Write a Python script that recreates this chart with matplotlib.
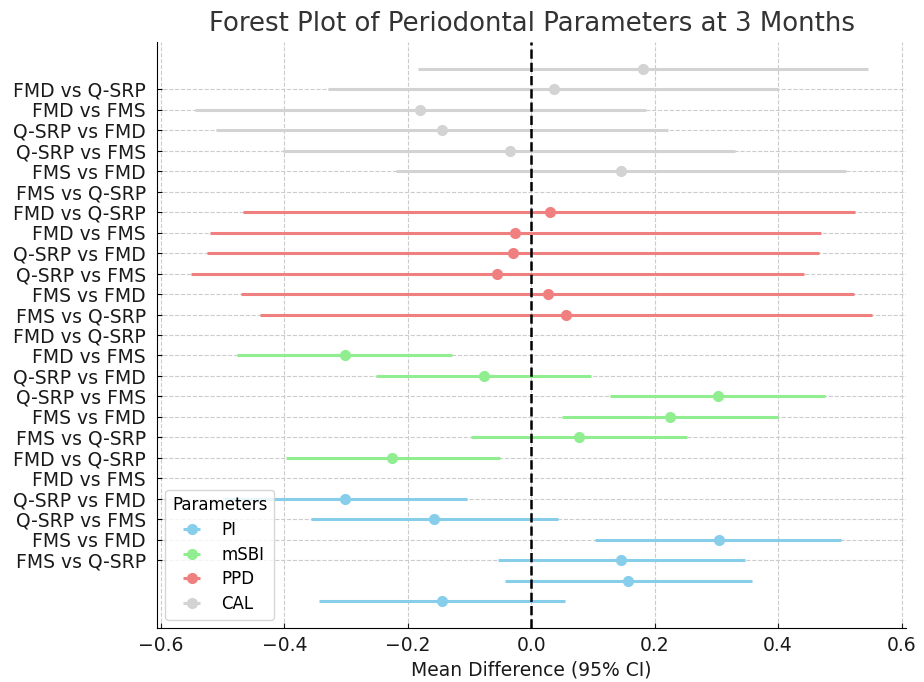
import matplotlib
matplotlib.use("Agg")
import matplotlib.pyplot as plt
import numpy as np

comparisons = ["FMD vs Q-SRP", "FMD vs FMS", "Q-SRP vs FMD",
               "Q-SRP vs FMS", "FMS vs FMD", "FMS vs Q-SRP"]
parameters = ["PI", "mSBI", "PPD", "CAL"]
colors = ["skyblue", "lightgreen", "lightcoral", "lightgray"]

# values listed top-to-bottom within each group
pi_mean = [-0.302, -0.157, 0.304, 0.146, 0.157, -0.145]
pi_lo = [-0.500, -0.357, 0.104, -0.054, -0.043, -0.344]
pi_hi = [-0.104, 0.043, 0.502, 0.346, 0.357, 0.054]

msbi_mean = [-0.301, -0.076, 0.303, 0.225, 0.077, -0.225]
msbi_lo = [-0.476, -0.251, 0.127, 0.050, -0.097, -0.398]
msbi_hi = [-0.128, 0.097, 0.476, 0.399, 0.252, -0.050]

ppd_mean = [0.030, -0.026, -0.029, -0.055, 0.027, 0.056]
ppd_lo = [-0.467, -0.521, -0.525, -0.551, -0.470, -0.440]
ppd_hi = [0.525, 0.470, 0.467, 0.442, 0.523, 0.552]

cal_mean = [0.181, 0.037, -0.181, -0.144, -0.035, 0.145]
cal_lo = [-0.183, -0.329, -0.545, -0.510, -0.402, -0.219]
cal_hi = [0.545, 0.400, 0.186, 0.221, 0.330, 0.510]

means = [pi_mean, msbi_mean, ppd_mean, cal_mean]
los = [pi_lo, msbi_lo, ppd_lo, cal_lo]
his = [pi_hi, msbi_hi, ppd_hi, cal_hi]

fig = plt.figure(figsize=(9.24, 6.82), dpi=100)
ax = fig.add_axes([0.170, 0.0792, 0.8105, 0.8592])

n = len(comparisons)
for g, (name, col) in enumerate(zip(parameters, colors)):
    m = np.array(means[g])
    lo = np.array(los[g])
    hi = np.array(his[g])
    y = g * (n + 1) + (n - 1 - np.arange(n))
    ax.errorbar(m, y, xerr=[m - lo, hi - m], fmt='o', color=col,
                ecolor=col, elinewidth=2.2, markersize=7, capsize=0,
                label=name)

ax.axvline(0, color='black', linestyle='--', linewidth=1.8)

labels = comparisons * 4
tick_pos = 4 * (n + 1) - 3 - np.arange(len(labels))
ax.set_yticks(tick_pos)
ax.set_yticklabels(labels, fontsize=13.5, color='#1a1a1a')
ax.tick_params(axis='both', direction='in', labelsize=13.5)
ax.tick_params(axis='y', pad=8)
ax.tick_params(axis='x', colors='#1a1a1a', pad=6)

ax.set_xlabel("Mean Difference (95% CI)", fontsize=13.5, color='#1a1a1a')
ax.set_title("Forest Plot of Periodontal Parameters at 3 Months",
             fontsize=18.7, color='#333333', pad=8)
ax.grid(True, linestyle='--', color='#cccccc', linewidth=0.8)
ax.set_axisbelow(True)
ax.spines['top'].set_visible(False)
ax.spines['right'].set_visible(False)

leg = ax.legend(title="Parameters", loc='lower left', fontsize=12,
                title_fontsize=12, labelspacing=0.4)

fig.savefig("out.png", dpi=100)
